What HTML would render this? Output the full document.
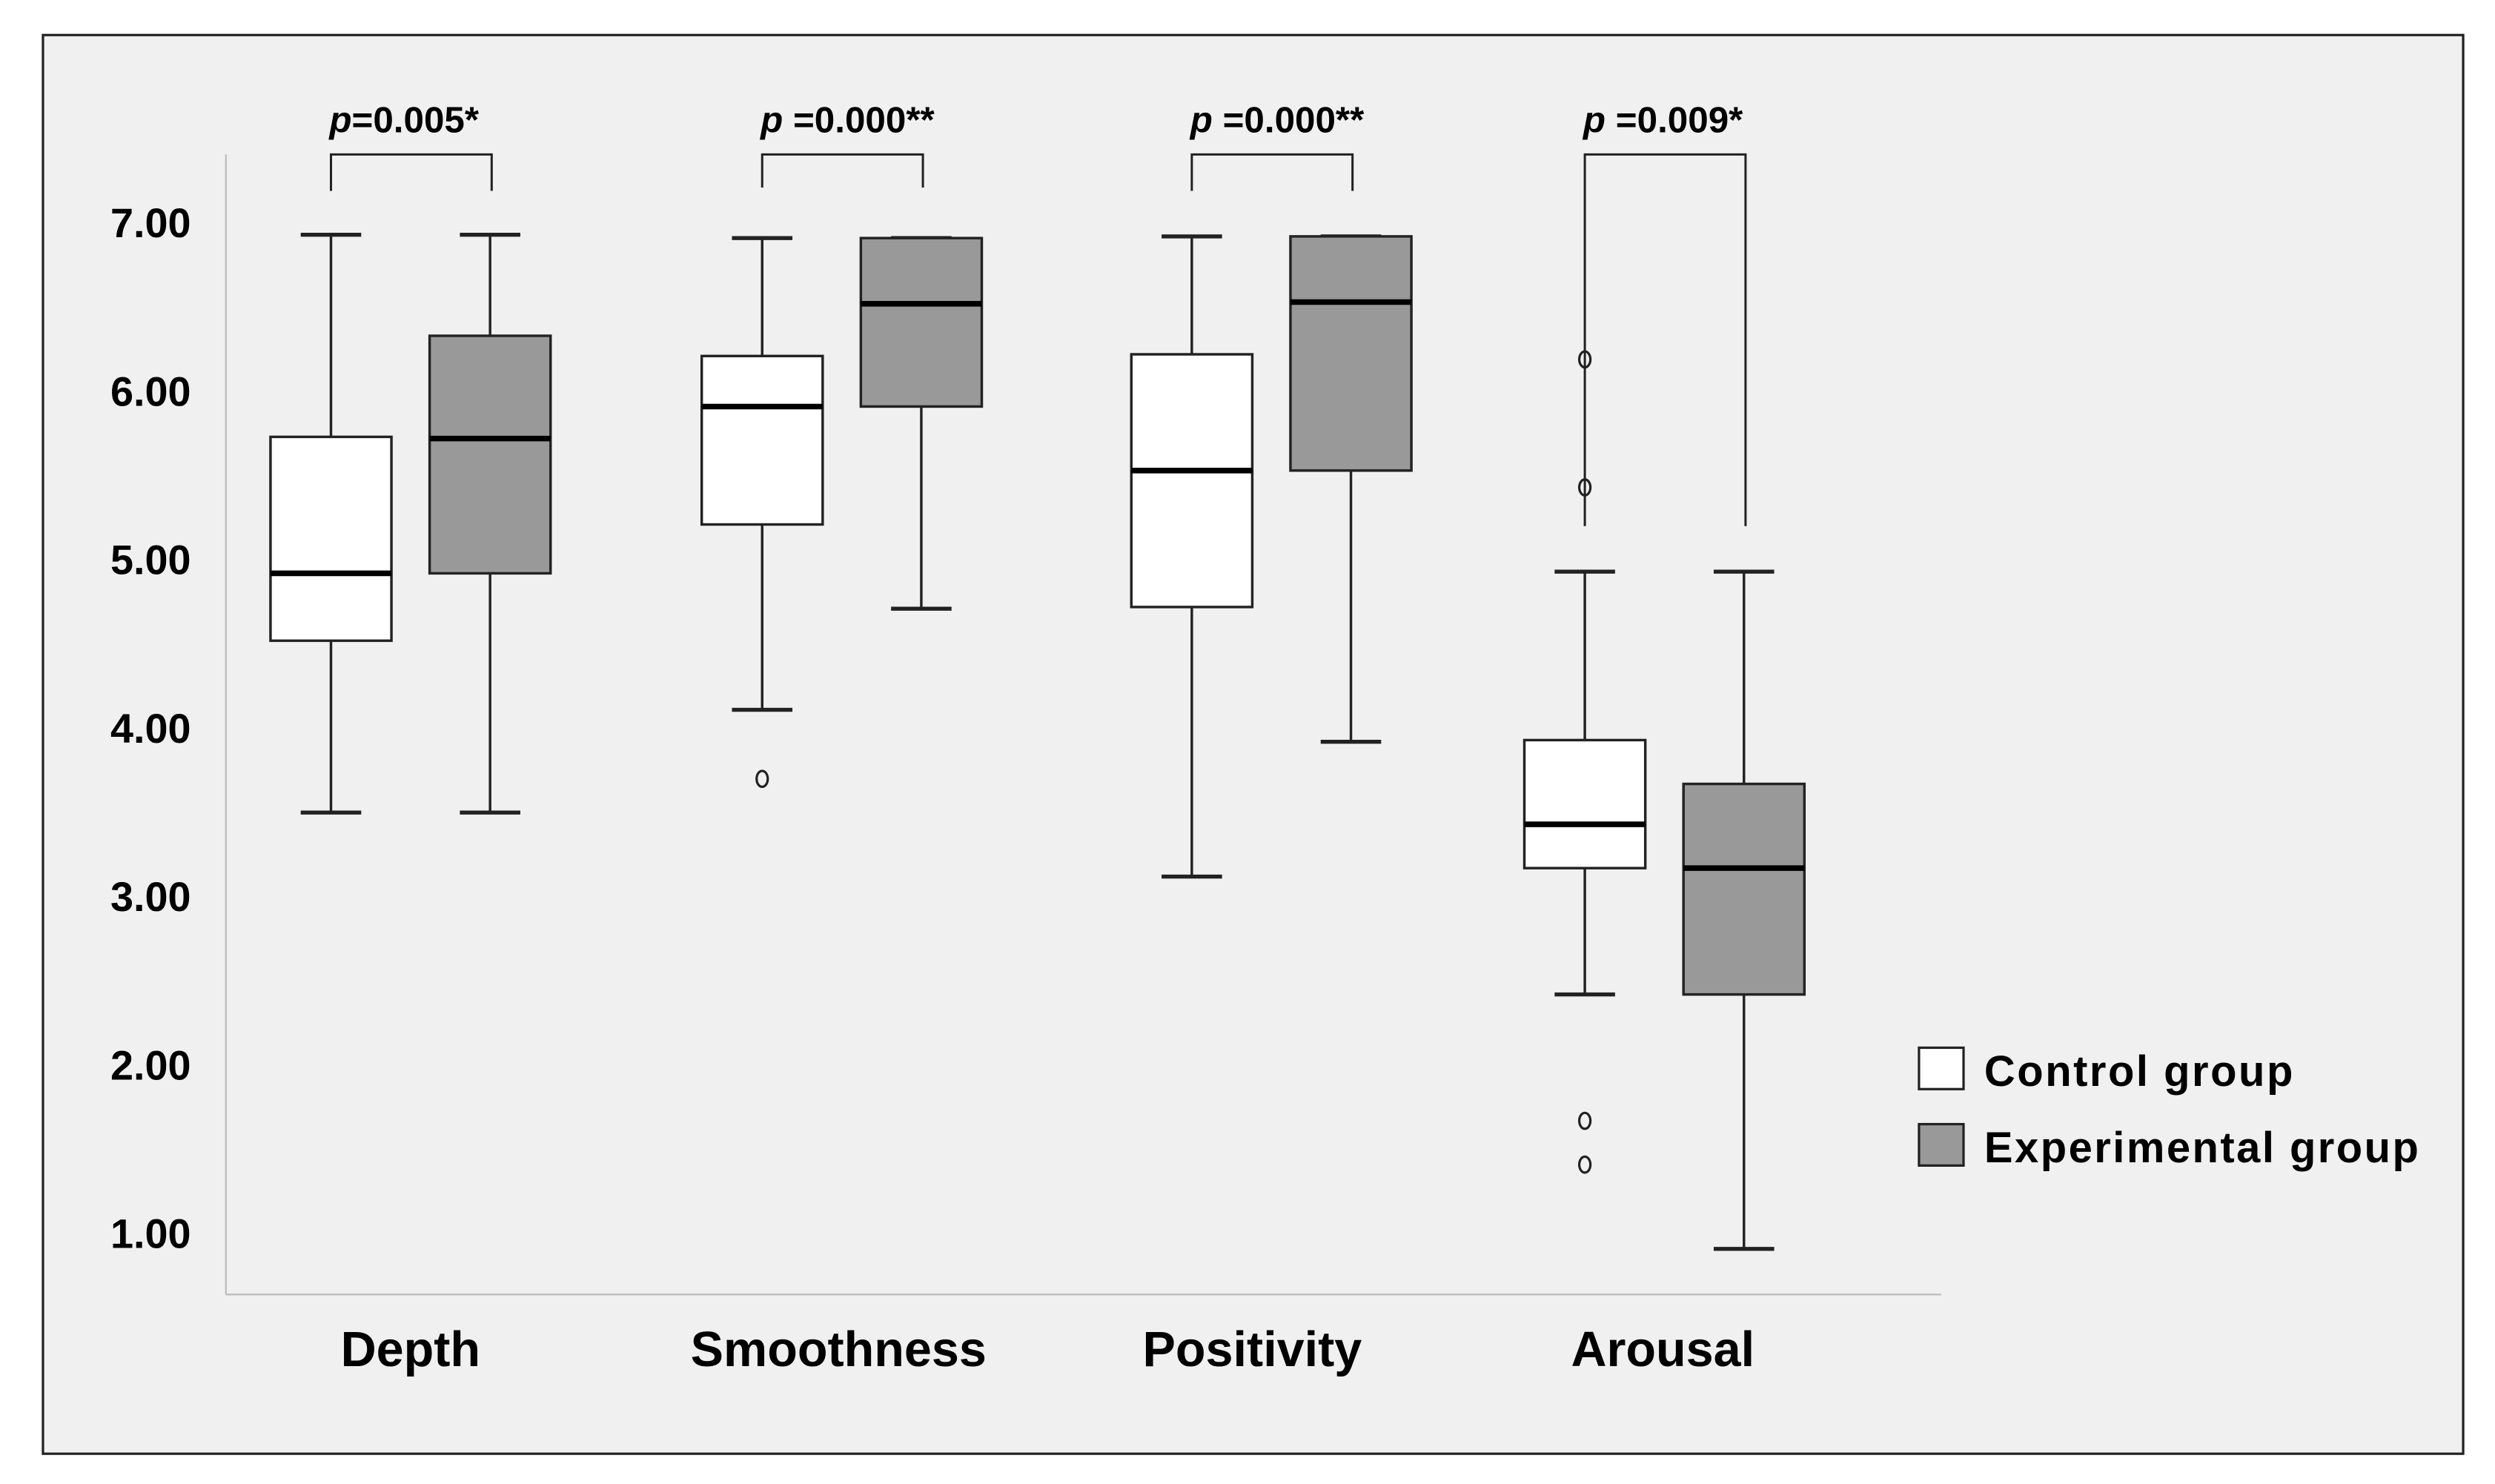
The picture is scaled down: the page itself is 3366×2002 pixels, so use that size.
<!DOCTYPE html>
<html><head><meta charset="utf-8"><style>
html,body{margin:0;padding:0;background:#fff;}
svg{display:block;font-family:"Liberation Sans",Arial,sans-serif;}
</style></head><body>
<svg id="chart" width="3366" height="2002" viewBox="0 0 1568 932" preserveAspectRatio="none" xmlns="http://www.w3.org/2000/svg">
<rect x="27" y="22" width="1521" height="891" fill="#f0f0f0" stroke="#222" stroke-width="1.5"/>
<line x1="142" y1="97" x2="142" y2="813" stroke="#bbb" stroke-width="1"/>
<line x1="142" y1="813" x2="1220" y2="813" stroke="#bbb" stroke-width="1"/>
<g id="ticks"></g><g id="boxes"></g><g id="brackets"></g>
<g>
<rect x="1206" y="658" width="28" height="26" fill="#fff" stroke="#222" stroke-width="1.5"/>
<text x="1247" y="682" font-size="27" font-weight="bold" fill="#000" textLength="194">Control group</text>
<rect x="1206" y="706" width="28" height="26" fill="#999" stroke="#222" stroke-width="1.5"/>
<text x="1247" y="730" font-size="27" font-weight="bold" fill="#000" textLength="273">Experimental group</text>
</g>
</svg>
<script>
const categories=["Depth","Smoothness","Positivity","Arousal"];
// [low whisker, Q1, median, Q3, high whisker]
const controlStats=[[3.5,4.52,4.92,5.73,6.93],[4.11,5.21,5.91,6.21,6.91],[3.12,4.72,5.53,6.22,6.92],[2.42,3.17,3.43,3.93,4.93]];
const experimentalStats=[[3.5,4.92,5.72,6.33,6.93],[4.71,5.91,6.52,6.91,6.91],[3.92,5.53,6.53,6.92,6.92],[0.91,2.42,3.17,3.67,4.93]];
const controlOutliers=[[],[3.70],[],[6.19,5.43,1.67,1.41]];
const experimentalOutliers=[[],[],[],[]];
const yTicks=[7,6,5,4,3,2,1];
const yTickLabels=["7.00","6.00","5.00","4.00","3.00","2.00","1.00"];
const pLabels=["=0.005*"," =0.000**"," =0.000**"," =0.009*"];
const bracketBottoms=[7.19,7.21,7.19,5.2];

const NS="http://www.w3.org/2000/svg";
const y=v=>140+(7-v)*105.8;
const cx=i=>[258,529,799,1046][i];
const labelX=[258,527,787,1045];
function mk(tag,attrs,parent){const e=document.createElementNS(NS,tag);for(const k in attrs)e.setAttribute(k,attrs[k]);parent.appendChild(e);return e;}
const ticks=document.getElementById('ticks');
yTicks.forEach((v,i)=>{
  const t=mk('text',{x:120,y:y(v)+9,'text-anchor':'end','font-size':'26','font-weight':'bold'},ticks);
  
  
  t.textContent=yTickLabels[i];
});
categories.forEach((c,i)=>{
  const t=mk('text',{x:labelX[i],y:858,'text-anchor':'middle','font-size':'31','font-weight':'bold'},ticks);
  
  
  t.textContent=c;
});
const boxes=document.getElementById('boxes');
function drawBox(s,center,fill,outs,name){
  const g=mk('g',{},boxes);
  
  
  const st={stroke:'#222','stroke-width':'1.6'};
  mk('line',Object.assign({x1:center,x2:center,y1:y(s[4]),y2:y(s[3])},st),g);
  mk('line',Object.assign({x1:center,x2:center,y1:y(s[1]),y2:y(s[0])},st),g);
  mk('line',Object.assign({x1:center-19,x2:center+19,y1:y(s[4]),y2:y(s[4])},st,{'stroke-width':'2.5'}),g);
  mk('line',Object.assign({x1:center-19,x2:center+19,y1:y(s[0]),y2:y(s[0])},st,{'stroke-width':'2.5'}),g);
  mk('rect',Object.assign({x:center-38,width:76,y:y(s[3]),height:y(s[1])-y(s[3]),fill:fill},st),g);
  mk('line',{x1:center-38,x2:center+38,y1:y(s[2]),y2:y(s[2]),stroke:'#000','stroke-width':'3.5'},g);
  outs.forEach(o=>{
    const c=mk('ellipse',{cx:center,cy:y(o),rx:3.5,ry:5,fill:'none',stroke:'#222','stroke-width':'1.5'},g);
    
    
  });
}
categories.forEach((c,i)=>{
  drawBox(controlStats[i],cx(i)-50,'#fff',controlOutliers[i],'box-control-'+c.toLowerCase());
  drawBox(experimentalStats[i],cx(i)+50,'#999',experimentalOutliers[i],'box-experimental-'+c.toLowerCase());
});
const br=document.getElementById('brackets');
categories.forEach((c,i)=>{
  const l=cx(i)-50,r=cx(i)+51,yb=y(bracketBottoms[i]);
  const p=mk('path',{d:`M${l},${yb} V97 H${r} V${yb}`,fill:'none',stroke:'#222','stroke-width':'1.4'},br);
  
  
  const t=mk('text',{x:l-1,y:83,'text-anchor':'start','font-size':'23','font-weight':'bold'},br);
  
  
  const ts=mk('tspan',{'font-style':'italic'},t);ts.textContent='p';
  const ts2=mk('tspan',{},t);ts2.textContent=pLabels[i];
});
</script>
</body></html>
